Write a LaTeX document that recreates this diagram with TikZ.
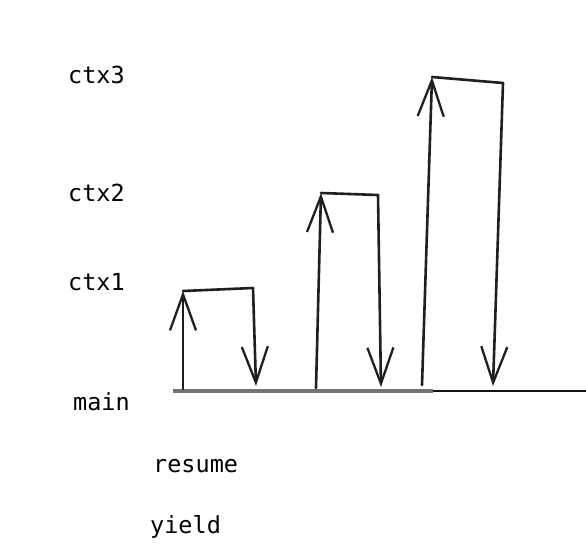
\documentclass[tikz,border=0pt]{standalone}
\usepackage{fontspec}
\setmonofont{DejaVu Sans Mono}
\usetikzlibrary{arrows.meta}
\begin{document}
\begin{tikzpicture}[x=1pt,y=-1pt,
  lbl/.style={anchor=base west,inner sep=0pt,text=black,font=\ttfamily\fontsize{23.5}{28}\selectfont},
  pen/.style={line width=2.6pt,draw=black!88,line cap=round,line join=round},
  penarrow/.style={pen,-{Straight Barb[length=36pt,width=26pt,line width=2.3pt]}}]
\useasboundingbox[fill=white] (0,0) rectangle (586,549);
% labels
\node[lbl] (ctx3) at (68,83) {ctx3};
\node[lbl] (ctx2) at (68,201) {ctx2};
\node[lbl] (ctx1) at (68,290) {ctx1};
\node[lbl] (main) at (73,410) {main};
\node[lbl] (resume) at (153,472) {resume};
\node[lbl] (yield) at (150,533) {yield};
% main line
\coordinate (m0) at (173,391);
\coordinate (m1) at (433,391);
\coordinate (m2) at (586,391);
\draw[line width=3.2pt,draw=black!55] (m0) -- (m1);
\draw[line width=2.6pt,draw=black!92] (m1) -- (m2);
% ctx1 loop
\coordinate (a0) at (183,389);
\coordinate (a1) at (183,291);
\coordinate (a2) at (253,288);
\coordinate (a3) at (256,386);
\draw[penarrow] (a0) -- (a1);
\draw[pen] (a1) -- (a2);
\draw[penarrow] (a2) -- (a3);
% ctx2 loop
\coordinate (b0) at (316,388);
\coordinate (b1) at (321,193);
\coordinate (b2) at (378,195);
\coordinate (b3) at (381,387);
\draw[penarrow] (b0) -- (b1);
\draw[pen] (b1) -- (b2);
\draw[penarrow] (b2) -- (b3);
% ctx3 loop
\coordinate (c0) at (422,385);
\coordinate (c1) at (432,77);
\coordinate (c2) at (503,83);
\coordinate (c3) at (493,386);
\draw[penarrow] (c0) -- (c1);
\draw[pen] (c1) -- (c2);
\draw[penarrow] (c2) -- (c3);
\end{tikzpicture}
\end{document}
